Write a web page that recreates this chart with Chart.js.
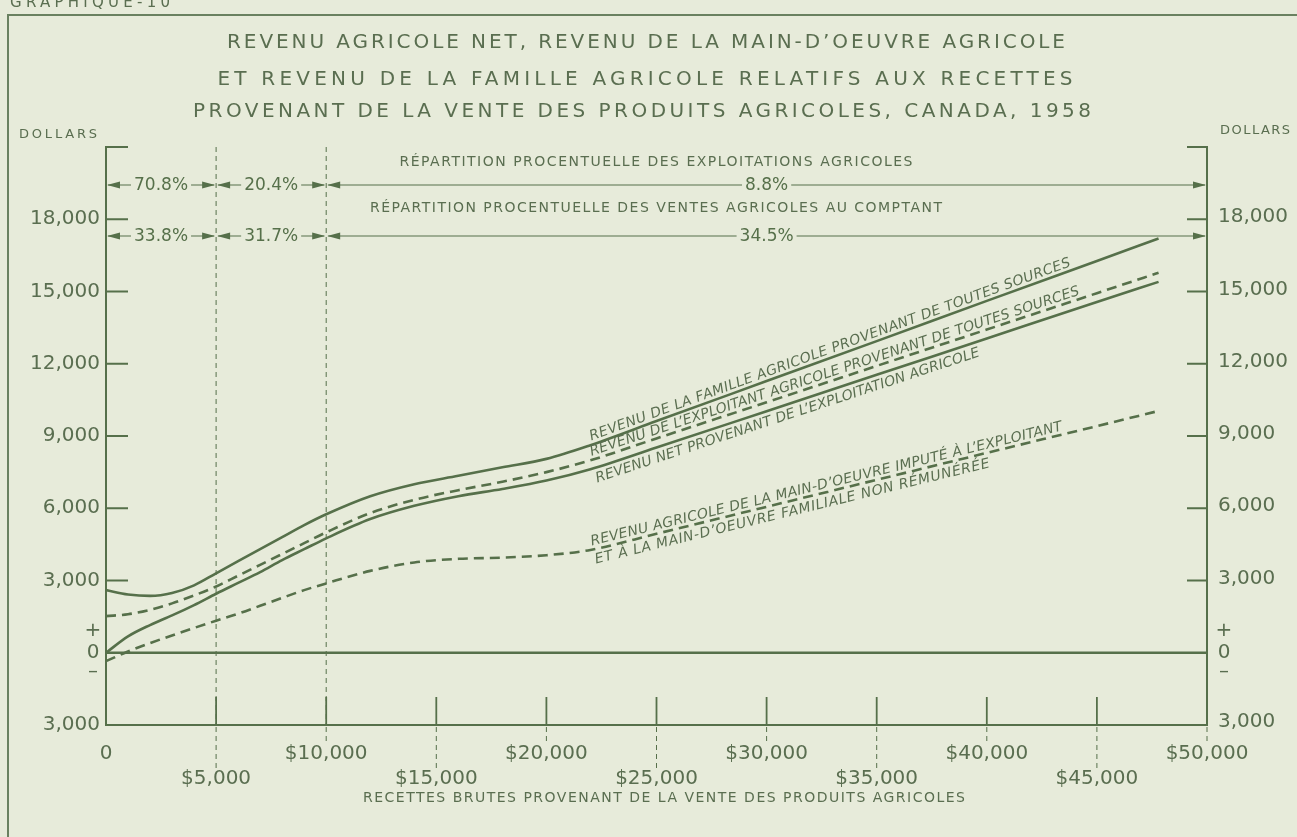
<!DOCTYPE html>
<html lang="fr">
<head>
<meta charset="utf-8">
<title>Revenu agricole net, Canada, 1958</title>
<script src="https://cdn.jsdelivr.net/npm/chart.js@4.4.1/dist/chart.umd.min.js"></script>
<style>
  html, body { margin: 0; padding: 0; background: #e7ebda; }
  #wrap { width: 1297px; height: 837px; }
</style>
</head>
<body>
<div id="wrap"><canvas id="chart" width="1297" height="837"></canvas></div>
<script>
// Data (dollars)
const receipts = [0, 1000, 2000, 3000, 4000, 5000, 6000, 7000, 8000, 9000, 10000, 12000, 14000, 16000, 18000, 20000, 22000, 25000, 30000, 35000, 40000, 45000, 47800];
const familyIncome = [2600, 2420, 2360, 2480, 2800, 3300, 3800, 4300, 4800, 5300, 5750, 6500, 7000, 7350, 7700, 8050, 8620, 9620, 11280, 12940, 14610, 16270, 17200];
const operatorIncome = [1520, 1600, 1780, 2050, 2380, 2750, 3200, 3650, 4100, 4550, 5000, 5800, 6350, 6750, 7100, 7500, 7990, 8900, 10400, 11910, 13420, 14930, 15780];
const netFarmIncome = [0, 680, 1150, 1550, 1980, 2450, 2900, 3350, 3850, 4300, 4750, 5550, 6100, 6500, 6800, 7150, 7620, 8520, 10030, 11540, 13050, 14560, 15400];
const labourIncome = [-350, 50, 400, 720, 1030, 1330, 1620, 1950, 2280, 2600, 2880, 3400, 3750, 3900, 3950, 4050, 4270, 4940, 6060, 7180, 8300, 9410, 10040];

// Axes
const yTicks = [-3000, 0, 3000, 6000, 9000, 12000, 15000, 18000];
const xTicks = [0, 5000, 10000, 15000, 20000, 25000, 30000, 35000, 40000, 45000, 50000];

// Percentage distribution rows
const shareBounds = [0, 5000, 10000, 50000];
const farmShares = ['70.8%', '20.4%', '8.8%'];
const salesShares = ['33.8%', '31.7%', '34.5%'];

const titleLines = [
    'REVENU AGRICOLE NET, REVENU DE LA MAIN-D’OEUVRE AGRICOLE',
    'ET REVENU DE LA FAMILLE AGRICOLE RELATIFS AUX RECETTES',
    'PROVENANT DE LA VENTE DES PRODUITS AGRICOLES, CANADA, 1958'
];

const INK = '#56704a';
const TEXT = '#5a6e50';
const BG = '#e7ebda';
const FONT = '"DejaVu Sans", "Liberation Sans", sans-serif';

// Draw text stretched with letter spacing to a given width
function spacedText(ctx, text, x, y, width, align) {
    ctx.letterSpacing = '0px';
    const w = ctx.measureText(text).width;
    const sp = text.length > 1 ? (width - w) / (text.length - 1) : 0;
    ctx.letterSpacing = sp + 'px';
    let left = x;
    if (align === 'center') left = x - width / 2;
    if (align === 'right') left = x - width;
    ctx.textAlign = 'left';
    ctx.fillText(text, left, y);
    ctx.letterSpacing = '0px';
}

function arrowHead(ctx, tipX, y, dir) {
    ctx.beginPath();
    ctx.moveTo(tipX, y);
    ctx.lineTo(tipX - dir * 13, y - 3.5);
    ctx.lineTo(tipX - dir * 13, y + 3.5);
    ctx.closePath();
    ctx.fill();
}

function arrowRow(ctx, xs, y, labels) {
    ctx.font = '17px ' + FONT;
    ctx.textAlign = 'center';
    ctx.textBaseline = 'middle';
    ctx.lineWidth = 1.2;
    for (let i = 0; i < labels.length; i++) {
        const a = xs.getPixelForValue(shareBounds[i]);
        const b = xs.getPixelForValue(shareBounds[i + 1]);
        const c = (a + b) / 2;
        const tw = ctx.measureText(labels[i]).width;
        ctx.beginPath();
        ctx.moveTo(a + 2, y);
        ctx.lineTo(c - tw / 2 - 3, y);
        ctx.moveTo(c + tw / 2 + 3, y);
        ctx.lineTo(b - 2, y);
        ctx.stroke();
        arrowHead(ctx, a + 1, y, -1);
        arrowHead(ctx, b - 1, y, 1);
        ctx.fillText(labels[i], c, y + 1);
    }
}

function valueAt(series, x) {
    for (let i = 1; i < receipts.length; i++) {
        if (x <= receipts[i]) {
            const t = (x - receipts[i - 1]) / (receipts[i] - receipts[i - 1]);
            return series[i - 1] + t * (series[i] - series[i - 1]);
        }
    }
    return series[series.length - 1];
}

// Slanted label running along a curve
function lineLabel(ctx, xs, ys, series, text, fromX, toX, side) {
    const x1 = xs.getPixelForValue(fromX), y1 = ys.getPixelForValue(valueAt(series, fromX));
    const x2 = xs.getPixelForValue(toX), y2 = ys.getPixelForValue(valueAt(series, toX));
    const angle = Math.atan2(y2 - y1, x2 - x1);
    const len = Math.hypot(x2 - x1, y2 - y1);
    ctx.save();
    ctx.translate(x1, y1);
    ctx.rotate(angle);
    ctx.font = 'italic 14px ' + FONT;
    if (side === 'above') {
        ctx.textBaseline = 'alphabetic';
        spacedText(ctx, text, 0, -4, len, 'left');
    } else {
        ctx.textBaseline = 'top';
        spacedText(ctx, text, 0, 4, len, 'left');
    }
    ctx.restore();
}

function fmt(v) {
    return Math.abs(v).toLocaleString('en-US');
}

const decor = {
    id: 'decor',
    beforeDraw(chart) {
        const ctx = chart.ctx;
        ctx.save();
        ctx.fillStyle = BG;
        ctx.fillRect(0, 0, chart.width, chart.height);

        // frame
        ctx.strokeStyle = '#6a8160';
        ctx.lineWidth = 2;
        ctx.beginPath();
        ctx.moveTo(8, chart.height);
        ctx.lineTo(8, 15);
        ctx.lineTo(chart.width, 15);
        ctx.stroke();

        ctx.fillStyle = TEXT;
        ctx.textBaseline = 'middle';
        ctx.font = '15px ' + FONT;
        spacedText(ctx, 'GRAPHIQUE-10', 10, 3, 160, 'left');

        ctx.font = '20px ' + FONT;
        spacedText(ctx, titleLines[0], 646, 43, 838, 'center');
        spacedText(ctx, titleLines[1], 645, 80, 855, 'center');
        spacedText(ctx, titleLines[2], 642, 112, 898, 'center');

        ctx.font = '13px ' + FONT;
        spacedText(ctx, 'DOLLARS', 19, 135, 78, 'left');
        spacedText(ctx, 'DOLLARS', 1220, 131, 70, 'left');
        ctx.restore();
    },
    beforeDatasetsDraw(chart) {
        const ctx = chart.ctx;
        const xs = chart.scales.x, ys = chart.scales.y;
        const area = chart.chartArea;
        ctx.save();
        ctx.strokeStyle = INK;
        ctx.fillStyle = TEXT;

        // dashed dividers for the share brackets
        ctx.lineWidth = 1;
        ctx.setLineDash([5, 4]);
        shareBounds.slice(1, -1).forEach(v => {
            const x = xs.getPixelForValue(v);
            ctx.beginPath();
            ctx.moveTo(x, area.top);
            ctx.lineTo(x, area.bottom);
            ctx.stroke();
        });
        // leaders from the axis down to the tick labels
        xTicks.forEach((v, i) => {
            const x = xs.getPixelForValue(v);
            if (v === 0) return;
            ctx.beginPath();
            ctx.moveTo(x, area.bottom + 2);
            ctx.lineTo(x, area.bottom + (i % 2 ? 44 : 20));
            ctx.stroke();
        });
        ctx.setLineDash([]);

        // axes
        ctx.lineWidth = 2;
        ctx.beginPath();
        ctx.moveTo(area.left + 22, area.top);
        ctx.lineTo(area.left, area.top);
        ctx.lineTo(area.left, area.bottom);
        ctx.lineTo(area.right, area.bottom);
        ctx.lineTo(area.right, area.top);
        ctx.lineTo(area.right - 20, area.top);
        ctx.stroke();

        ctx.lineWidth = 2.6;
        const y0 = ys.getPixelForValue(0);
        ctx.beginPath();
        ctx.moveTo(area.left, y0);
        ctx.lineTo(area.right, y0);
        ctx.stroke();

        // y ticks and labels, both sides
        ctx.lineWidth = 1.8;
        ctx.font = '20px ' + FONT;
        ctx.textBaseline = 'middle';
        yTicks.forEach(v => {
            const y = ys.getPixelForValue(v);
            if (v > 0) {
                ctx.beginPath();
                ctx.moveTo(area.left, y);
                ctx.lineTo(area.left + 22, y);
                ctx.moveTo(area.right, y);
                ctx.lineTo(area.right - 20, y);
                ctx.stroke();
                ctx.textAlign = 'right';
                ctx.fillText(fmt(v), area.left - 6, y);
                ctx.textAlign = 'left';
                ctx.fillText(fmt(v), area.right + 11, y - 2);
            } else if (v === 0) {
                ctx.textAlign = 'center';
                [area.left - 13, area.right + 17].forEach(x => {
                    ctx.fillText('+', x, y - 22);
                    ctx.fillText('0', x, y);
                    ctx.fillText('–', x, y + 19);
                });
            } else {
                ctx.textAlign = 'right';
                ctx.fillText(fmt(v), area.left - 6, y);
                ctx.textAlign = 'left';
                ctx.fillText(fmt(v), area.right + 11, y - 3);
            }
        });

        // x ticks and labels
        ctx.lineWidth = 1.8;
        ctx.textAlign = 'center';
        xTicks.forEach((v, i) => {
            const x = xs.getPixelForValue(v);
            if (v > 0 && v < 50000) {
                ctx.beginPath();
                ctx.moveTo(x, area.bottom);
                ctx.lineTo(x, area.bottom - 28);
                ctx.stroke();
            }
            const label = v === 0 ? '0' : '$' + fmt(v);
            ctx.fillText(label, x, area.bottom + (i % 2 ? 54 : 29));
        });

        ctx.font = '14px ' + FONT;
        spacedText(ctx, 'RECETTES BRUTES PROVENANT DE LA VENTE DES PRODUITS AGRICOLES', 664, 798, 602, 'center');

        // percentage distribution rows
        ctx.font = '14px ' + FONT;
        spacedText(ctx, 'RÉPARTITION PROCENTUELLE DES EXPLOITATIONS AGRICOLES', 656, area.top + 15, 513, 'center');
        spacedText(ctx, 'RÉPARTITION PROCENTUELLE DES VENTES AGRICOLES AU COMPTANT', 656, area.top + 61, 572, 'center');
        ctx.fillStyle = INK;
        arrowRow(ctx, xs, area.top + 38, farmShares);
        arrowRow(ctx, xs, area.top + 89, salesShares);
        ctx.restore();
    },
    afterDatasetsDraw(chart) {
        const ctx = chart.ctx;
        const xs = chart.scales.x, ys = chart.scales.y;
        ctx.save();
        ctx.fillStyle = TEXT;
        lineLabel(ctx, xs, ys, familyIncome, 'REVENU DE LA FAMILLE AGRICOLE PROVENANT DE TOUTES SOURCES', 22100, 43900, 'above');
        lineLabel(ctx, xs, ys, operatorIncome, 'REVENU DE L’EXPLOITANT AGRICOLE PROVENANT DE TOUTES SOURCES', 22100, 44300, 'above');
        lineLabel(ctx, xs, ys, netFarmIncome, 'REVENU NET PROVENANT DE L’EXPLOITATION AGRICOLE', 22100, 39500, 'below');
        lineLabel(ctx, xs, ys, labourIncome, 'REVENU AGRICOLE DE LA MAIN-D’OEUVRE IMPUTÉ À L’EXPLOITANT', 22100, 43500, 'above');
        lineLabel(ctx, xs, ys, labourIncome, 'ET À LA MAIN-D’OEUVRE FAMILIALE NON RÉMUNÉRÉE', 22100, 40000, 'below');
        ctx.restore();
    }
};

function pairs(series) {
    return receipts.map((x, i) => ({ x: x, y: series[i] }));
}

const lineStyle = {
    borderColor: INK,
    borderWidth: 2.6,
    pointRadius: 0,
    fill: false,
    cubicInterpolationMode: 'monotone'
};

const chart = new Chart(document.getElementById('chart').getContext('2d'), {
    type: 'line',
    data: {
        datasets: [
            { ...lineStyle, label: 'Revenu de la famille agricole', data: pairs(familyIncome) },
            { ...lineStyle, label: 'Revenu de l’exploitant agricole', data: pairs(operatorIncome), borderDash: [10, 6] },
            { ...lineStyle, label: 'Revenu net de l’exploitation', data: pairs(netFarmIncome) },
            { ...lineStyle, label: 'Revenu de la main-d’oeuvre', data: pairs(labourIncome), borderDash: [10, 6] }
        ]
    },
    options: {
        responsive: false,
        animation: false,
        devicePixelRatio: 1,
        layout: { padding: { left: 106, right: 90, top: 147, bottom: 112 } },
        scales: {
            x: { type: 'linear', min: 0, max: 50000, display: false },
            y: { min: -3000, max: 21000, display: false }
        },
        plugins: {
            legend: { display: false },
            tooltip: { enabled: false }
        }
    },
    plugins: [decor]
});
</script>
</body>
</html>
